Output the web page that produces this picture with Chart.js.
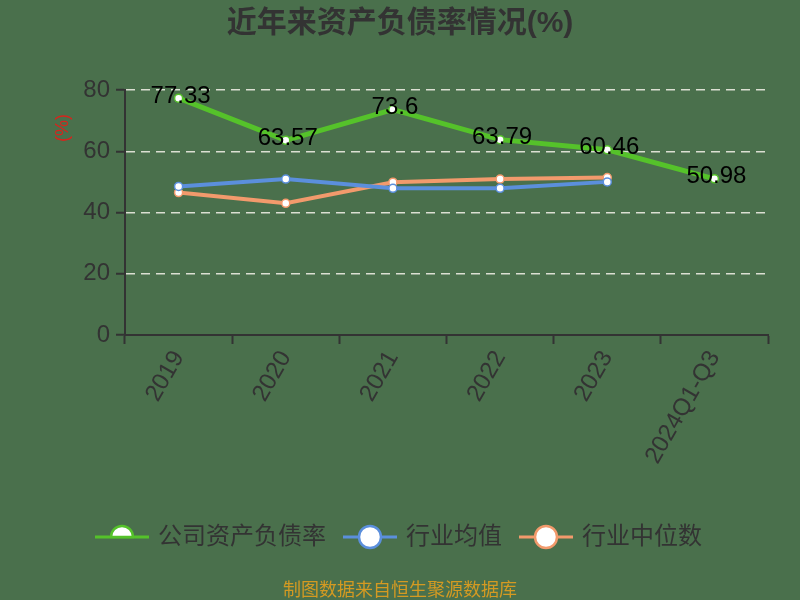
<!DOCTYPE html>
<html lang="zh">
<head>
  <meta charset="UTF-8" />
  <title>近年来资产负债率情况(%)</title>
  <script src="https://cdn.jsdelivr.net/npm/chart.js"></script>
  <style>
    html, body {
      margin: 0;
      padding: 0;
      background-color: #4a704c;
    }
    #wrap {
      width: 800px;
      height: 600px;
    }
  </style>
</head>
<body>
  <div id="wrap"><canvas id="debtChart" width="800" height="600"></canvas></div>

  <script>
    const years = ['2019', '2020', '2021', '2022', '2023', '2024Q1-Q3'];
    const companyRate = [77.33, 63.57, 73.6, 63.79, 60.46, 50.98];
    const industryAvg = [48.5, 50.9, 47.9, 47.9, 50.0, null];
    const industryMedian = [46.5, 43.0, 49.9, 50.9, 51.4, null];
    const yTicks = [0, 20, 40, 60, 80];

    const FONT = "'Liberation Sans', 'Noto Sans CJK SC', sans-serif";
    const colors = ['#55c22a', '#5b8fdc', '#f29a6c'];

    // legend icon: short line with a hollow circle in the middle
    // (the first one only shows the upper half, as in the original)
    function legendIcon(color, half) {
      const c = document.createElement('canvas');
      c.width = 54;
      c.height = 26;
      const g = c.getContext('2d');
      g.strokeStyle = color;
      g.lineWidth = 3;
      g.beginPath();
      g.moveTo(0, 13);
      g.lineTo(54, 13);
      g.stroke();
      g.beginPath();
      if (half) {
        g.arc(27, 13, 11, Math.PI, Math.PI * 2);
        g.closePath();
      } else {
        g.arc(27, 13, 11, 0, Math.PI * 2);
      }
      g.fillStyle = '#ffffff';
      g.fill();
      g.lineWidth = 2.5;
      g.stroke();
      return c;
    }

    const bgPlugin = {
      id: 'bg',
      beforeDraw(chart) {
        const ctx = chart.ctx;
        ctx.save();
        ctx.fillStyle = '#4a704c';
        ctx.fillRect(0, 0, chart.width, chart.height);
        ctx.restore();
      }
    };

    // value labels on the company line + the "(%)" unit text
    const labelPlugin = {
      id: 'valueLabels',
      afterDatasetsDraw(chart) {
        const ctx = chart.ctx;
        const meta = chart.getDatasetMeta(0);
        ctx.save();
        ctx.font = '24px ' + FONT;
        ctx.fillStyle = '#000000';
        ctx.textAlign = 'center';
        ctx.textBaseline = 'middle';
        meta.data.forEach((pt, i) => {
          ctx.fillText(String(companyRate[i]), pt.x + 2, pt.y - 2);
        });
        ctx.restore();

        const area = chart.chartArea;
        ctx.save();
        ctx.translate(63, area.top + 38);
        ctx.rotate(-Math.PI / 2);
        ctx.font = '18px ' + FONT;
        ctx.fillStyle = '#d8241c';
        ctx.textAlign = 'center';
        ctx.textBaseline = 'middle';
        ctx.fillText('(%)', 0, 0);
        ctx.restore();
      }
    };

    const ctx = document.getElementById('debtChart').getContext('2d');
    new Chart(ctx, {
      type: 'line',
      data: {
        labels: years,
        datasets: [
          {
            label: '公司资产负债率',
            data: companyRate,
            borderColor: colors[0],
            backgroundColor: '#ffffff',
            borderWidth: 5,
            pointRadius: 4,
            pointBorderWidth: 1.5,
            pointBackgroundColor: '#ffffff',
            pointBorderColor: colors[0],
            tension: 0
          },
          {
            label: '行业均值',
            data: industryAvg,
            borderColor: colors[1],
            backgroundColor: '#ffffff',
            borderWidth: 4,
            pointRadius: 4,
            pointBorderWidth: 1.5,
            pointBackgroundColor: '#ffffff',
            pointBorderColor: colors[1],
            tension: 0
          },
          {
            label: '行业中位数',
            data: industryMedian,
            borderColor: colors[2],
            backgroundColor: '#ffffff',
            borderWidth: 4,
            pointRadius: 4,
            pointBorderWidth: 1.5,
            pointBackgroundColor: '#ffffff',
            pointBorderColor: colors[2],
            tension: 0
          }
        ]
      },
      options: {
        responsive: false,
        animation: false,
        layout: {
          padding: 0
        },
        scales: {
          x: {
            offset: true,
            grid: {
              offset: true,
              drawOnChartArea: false,
              drawTicks: true,
              tickLength: 9,
              tickColor: '#333333',
              tickWidth: 2
            },
            border: { color: '#333333', width: 2 },
            ticks: {
              color: '#333333',
              font: { family: FONT, size: 24 },
              maxRotation: 60,
              minRotation: 60,
              padding: 2
            },
            afterFit(scale) { scale.height = 170; }
          },
          y: {
            min: 0,
            max: 80,
            afterBuildTicks(scale) {
              scale.ticks = yTicks.map(v => ({ value: v }));
            },
            grid: {
              color: 'rgba(235, 235, 225, 0.9)',
              lineWidth: 1.5,
              drawTicks: true,
              tickLength: 9,
              tickColor: '#333333',
              tickWidth: 2,
              tickBorderDash: []
            },
            border: { color: '#333333', width: 2, dash: [9, 6] },
            ticks: {
              color: '#333333',
              font: { family: FONT, size: 24 },
              padding: 6
            },
            afterFit(scale) { scale.width = 125; }
          },
          // empty right-hand axis, only keeps the plot clear of the right edge
          yRight: {
            position: 'right',
            display: true,
            grid: { display: false, drawTicks: false },
            border: { display: false },
            ticks: { display: false },
            afterFit(scale) { scale.width = 32; }
          }
        },
        plugins: {
          title: {
            display: true,
            text: '近年来资产负债率情况(%)',
            color: '#333333',
            font: { family: FONT, size: 30, weight: 'bold' },
            padding: { top: 6, bottom: 48 }
          },
          subtitle: {
            display: true,
            position: 'bottom',
            text: '制图数据来自恒生聚源数据库',
            color: '#d49a22',
            font: { family: FONT, size: 18, lineHeight: 1 },
            padding: { top: 23, bottom: 0 }
          },
          legend: {
            position: 'bottom',
            labels: {
              usePointStyle: true,
              pointStyleWidth: 48,
              boxHeight: 24,
              color: '#333333',
              font: { family: FONT, size: 24 },
              padding: 20,
              generateLabels(chart) {
                const items = Chart.defaults.plugins.legend.labels.generateLabels(chart);
                items.forEach((it, i) => { it.pointStyle = legendIcon(colors[i], i === 0); });
                return items;
              }
            }
          },
          tooltip: { enabled: false }
        }
      },
      plugins: [bgPlugin, labelPlugin]
    });
  </script>
</body>
</html>
